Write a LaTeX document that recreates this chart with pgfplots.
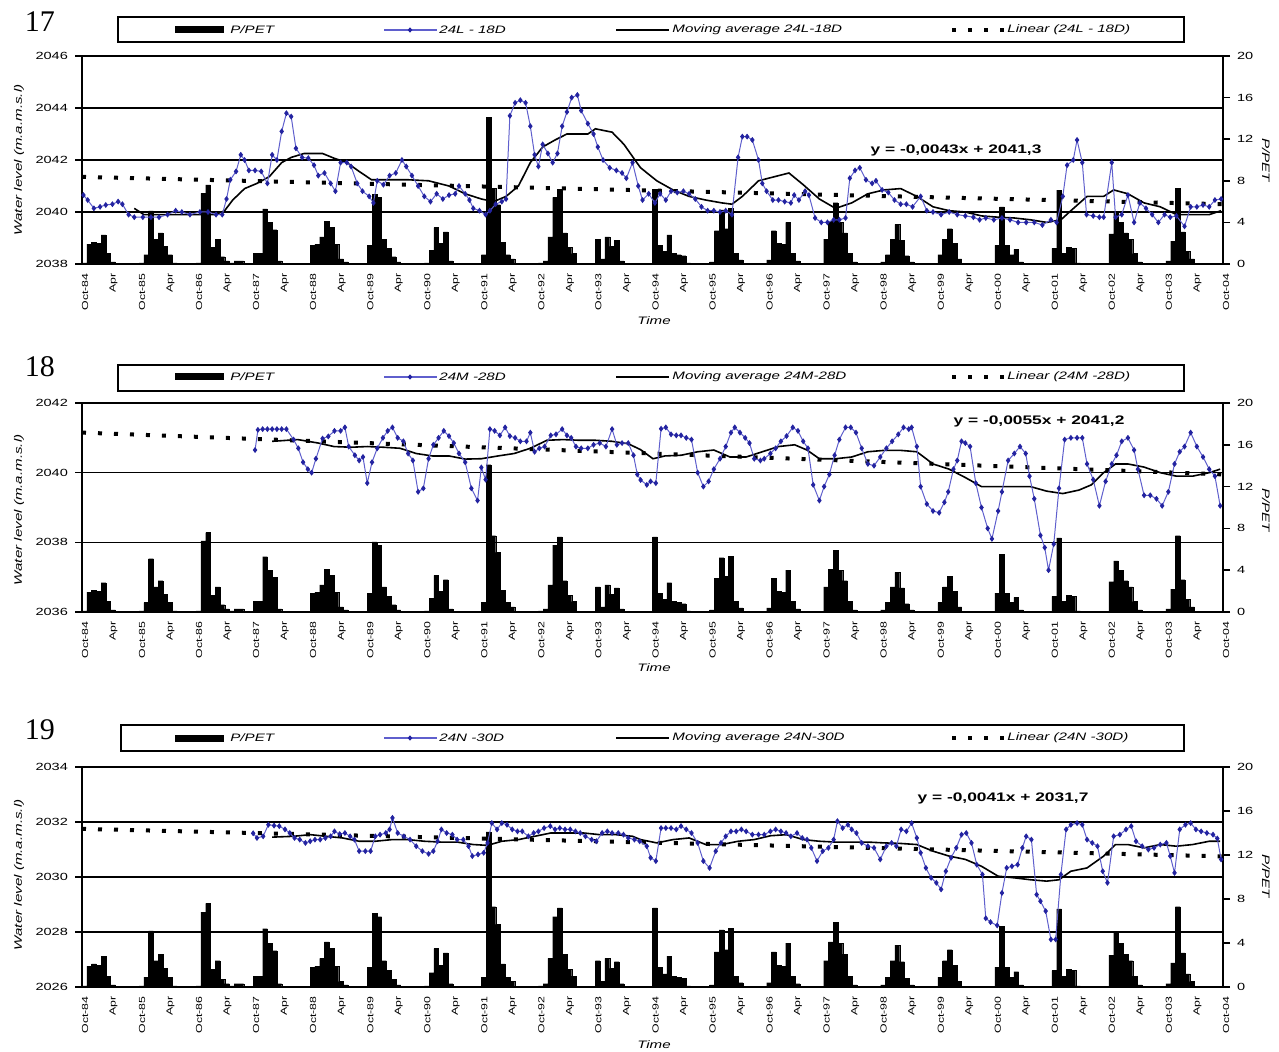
\documentclass[border=0pt]{standalone}
\usepackage{fontspec}
\setmainfont{Liberation Sans}
\newfontfamily\sfx[FakeStretch=1.4]{Liberation Sans}
\newfontfamily\serifx{Liberation Serif}
\usepackage{pgfplots}
\pgfplotsset{compat=1.18}
\usepackage{pgfplotstable}
\definecolor{wl}{RGB}{35,35,160}
\definecolor{wlline}{RGB}{95,95,205}
\newcommand{\tickf}{\sfx\fontsize{5.2}{6.2}\selectfont}
\newcommand{\xtickf}{\sfx\fontsize{4.4}{5.2}\selectfont}
\newcommand{\legf}{\sfx\itshape\fontsize{5.4}{6.4}\selectfont}
\newcommand{\eqf}{\sfx\bfseries\fontsize{6.2}{7}\selectfont}
\tikzset{trend/.style={black,line width=2pt,dash pattern=on 2pt off 6pt},
         mavg/.style={black,line width=0.8pt},
         wlev/.style={wlline,line width=0.5pt,mark=diamond*,mark size=1.1pt,mark options={wl,solid}}}
\pgfplotsset{
 panel/.style={scale only axis,width=570.5pt,xmin=0,xmax=240,anchor=south west},
 wlaxis/.style={panel,axis x line*=bottom,axis y line*=left,axis line style={-,line width=0.8pt},
   ymajorgrids,grid style={line width=0.7pt,black},
   xtick={0,6,...,240},
   xticklabels={Oct-84,Apr,Oct-85,Apr,Oct-86,Apr,Oct-87,Apr,Oct-88,Apr,Oct-89,Apr,Oct-90,Apr,Oct-91,Apr,Oct-92,Apr,Oct-93,Apr,Oct-94,Apr,Oct-95,Apr,Oct-96,Apr,Oct-97,Apr,Oct-98,Apr,Oct-99,Apr,Oct-00,Apr,Oct-01,Apr,Oct-02,Apr,Oct-03,Apr,Oct-04},
   xticklabel style={rotate=90,anchor=east,font=\xtickf,inner sep=1pt,yshift=-1.5pt},
   xtick style={draw=none},
   yticklabel style={font=\tickf,/pgf/number format/1000 sep={}},
   ytick style={line width=0.8pt,black},
   tick align=outside,major tick length=3.5pt,
   /pgf/number format/assume math mode=true},
 ppaxis/.style={panel,axis x line=none,axis y line*=right,axis line style={-,line width=0.8pt},
   ymin=0,ymax=20,ytick={0,4,...,20},
   yticklabel style={font=\tickf},ytick style={line width=0.8pt,black},
   tick align=outside,major tick length=3.5pt,
   /pgf/number format/assume math mode=true},
}
\pgfplotstableread{
m v
0.5 0.1
1.5 1.9
2.5 2.1
3.5 2.0
4.5 2.8
5.5 1.0
6.5 0.2
12.5 0.1
13.5 0.9
14.5 5.1
15.5 2.4
16.5 3.0
17.5 1.7
18.5 0.9
19.5 0.1
24.5 0.1
25.5 6.8
26.5 7.6
27.5 1.6
28.5 2.4
29.5 0.7
30.5 0.3
31.5 0.1
32.5 0.3
33.5 0.3
36.5 1.0
37.5 1.0
38.5 5.3
39.5 4.0
40.5 3.3
41.5 0.3
48.5 1.8
49.5 1.9
50.5 2.6
51.5 4.1
52.5 3.5
53.5 1.9
54.5 0.5
55.5 0.2
60.5 1.8
61.5 6.7
62.5 6.4
63.5 2.4
64.5 1.5
65.5 0.7
66.5 0.2
72.5 0.1
73.5 1.3
74.5 3.5
75.5 2.0
76.5 3.1
77.5 0.3
84.5 0.9
85.5 14.1
86.5 7.3
87.5 5.7
88.5 2.1
89.5 0.9
90.5 0.5
96.5 0.1
97.5 0.3
98.5 2.6
99.5 6.4
100.5 7.2
101.5 3.0
102.5 1.6
103.5 1.0
108.5 2.4
109.5 0.5
110.5 2.6
111.5 1.7
112.5 2.3
113.5 0.3
120.5 7.2
121.5 1.8
122.5 1.2
123.5 2.8
124.5 1.0
125.5 0.9
126.5 0.8
127.5 0.1
132.5 0.2
133.5 3.2
134.5 5.2
135.5 3.4
136.5 5.35
137.5 1.0
138.5 0.4
144.5 0.4
145.5 3.2
146.5 2.0
147.5 1.9
148.5 4.0
149.5 1.0
150.5 0.3
156.5 2.4
157.5 4.1
158.5 5.9
159.5 4.0
160.5 3.0
161.5 1.0
162.5 0.2
168.5 0.2
169.5 0.9
170.5 2.4
171.5 3.8
172.5 2.3
173.5 0.8
174.5 0.2
180.5 0.9
181.5 2.4
182.5 3.4
183.5 2.0
184.5 0.5
192.5 1.8
193.5 5.5
194.5 1.8
195.5 0.9
196.5 1.4
197.5 0.2
204.5 1.5
205.5 7.1
206.5 1.0
207.5 1.6
208.5 1.5
209.5 0.1
216.5 2.9
217.5 4.9
218.5 4.0
219.5 3.0
220.5 2.4
221.5 1.0
222.5 0.2
228.5 0.3
229.5 2.2
230.5 7.3
231.5 3.1
232.5 1.2
233.5 0.5
}\ppet
\pgfplotstableread{
m v
0.3 2040.65
1.2 2040.46
2.5 2040.14
3.8 2040.20
5.0 2040.27
6.4 2040.30
7.6 2040.40
8.5 2040.30
9.8 2039.90
11.0 2039.80
12.8 2039.80
14.5 2039.80
16.2 2039.80
18.0 2039.90
19.7 2040.05
21.0 2040.00
22.7 2039.90
24.8 2040.00
26.5 2040.00
28.2 2039.90
29.5 2039.90
30.4 2040.50
31.2 2041.24
32.4 2041.56
33.4 2042.20
34.2 2042.00
35.1 2041.60
36.4 2041.60
37.7 2041.56
39.0 2041.10
40.0 2042.20
41.0 2042.00
42.0 2043.10
43.0 2043.80
44.0 2043.67
45.0 2042.45
46.3 2042.10
47.6 2042.07
48.8 2041.80
49.7 2041.40
51.0 2041.50
52.3 2041.10
53.3 2040.80
54.4 2041.90
55.7 2041.90
56.6 2041.75
57.9 2041.10
59.0 2040.80
60.4 2040.60
61.3 2040.35
62.1 2041.20
63.4 2041.05
64.7 2041.40
66.0 2041.50
67.3 2042.00
68.2 2041.75
69.4 2041.40
70.7 2041.00
72.0 2040.60
73.3 2040.40
74.6 2040.70
75.9 2040.50
77.2 2040.65
78.5 2040.70
79.3 2041.00
80.6 2040.70
81.5 2040.46
82.3 2040.14
83.6 2040.05
84.9 2039.90
85.8 2040.05
87.0 2040.30
88.3 2040.40
89.2 2040.50
90.0 2043.70
91.1 2044.20
92.2 2044.30
93.3 2044.20
94.3 2043.30
95.2 2042.20
96.0 2041.75
96.9 2042.60
98.0 2042.25
99.0 2041.90
100.0 2042.25
101.0 2043.30
102.0 2043.85
103.0 2044.40
104.2 2044.50
105.0 2043.90
106.4 2043.40
107.6 2043.00
108.5 2042.50
109.6 2042.00
111.0 2041.70
112.4 2041.60
113.6 2041.50
114.5 2041.30
115.8 2041.90
117.0 2041.00
117.9 2040.46
119.2 2040.70
120.5 2040.35
121.6 2040.70
122.8 2040.46
123.9 2040.80
125.2 2040.75
126.5 2040.80
127.7 2040.70
129.0 2040.50
130.3 2040.20
131.6 2040.05
132.9 2040.05
134.2 2040.00
135.4 2040.05
136.7 2039.90
138.0 2042.10
138.9 2042.90
139.9 2042.90
141.0 2042.77
142.3 2042.00
143.1 2041.10
144.0 2040.80
145.3 2040.46
146.5 2040.46
147.8 2040.40
149.1 2040.35
149.8 2040.65
150.8 2040.46
152.1 2040.80
152.9 2040.65
154.2 2039.77
155.5 2039.60
156.8 2039.60
158.1 2039.70
159.3 2039.70
160.6 2039.77
161.5 2041.30
162.6 2041.60
163.6 2041.70
164.9 2041.24
166.2 2041.10
167.0 2041.20
168.3 2040.85
169.6 2040.75
170.9 2040.46
172.2 2040.30
173.4 2040.30
174.7 2040.20
176.4 2040.60
177.7 2040.05
179.0 2040.00
180.7 2039.90
182.4 2040.00
184.1 2039.90
185.8 2039.85
187.5 2039.80
188.8 2039.70
190.1 2039.77
191.8 2039.70
193.5 2039.77
195.2 2039.70
196.9 2039.60
198.6 2039.60
200.3 2039.60
202.0 2039.50
203.8 2039.70
205.0 2039.60
206.3 2040.60
207.2 2041.80
208.5 2042.00
209.3 2042.77
210.4 2041.90
211.3 2039.90
212.7 2039.85
214.0 2039.80
214.9 2039.80
216.6 2041.90
217.4 2039.80
218.7 2039.90
220.0 2040.65
221.3 2039.60
222.5 2040.35
223.8 2040.14
225.1 2039.90
226.4 2039.60
227.7 2039.90
228.9 2039.80
230.2 2039.85
231.9 2039.45
233.2 2040.20
234.5 2040.20
235.8 2040.27
237.1 2040.20
238.3 2040.46
239.6 2040.50
}\blueA
\pgfplotstableread{
m v
11.0 2040.14
13.0 2039.90
18.0 2039.90
24.0 2039.90
28.0 2039.90
30.0 2040.05
31.7 2040.46
34.2 2040.90
36.8 2041.10
39.4 2041.36
42.0 2041.90
44.0 2042.10
46.7 2042.25
50.6 2042.25
53.0 2042.07
55.7 2041.90
58.3 2041.56
60.9 2041.24
64.3 2041.24
68.6 2041.24
72.9 2041.20
77.2 2041.00
80.6 2040.70
84.0 2040.50
86.6 2040.40
89.2 2040.60
91.8 2041.00
94.3 2041.90
96.9 2042.50
99.5 2042.77
102.0 2043.00
106.4 2043.00
108.0 2043.20
111.5 2043.07
114.0 2042.60
116.7 2041.90
117.5 2041.70
120.9 2041.20
124.3 2040.85
127.7 2040.60
131.2 2040.46
134.6 2040.35
136.7 2040.30
138.9 2040.60
142.3 2041.20
145.7 2041.36
148.7 2041.50
151.7 2041.05
155.1 2040.50
158.5 2040.14
161.9 2040.35
165.3 2040.70
168.7 2040.85
172.2 2040.90
175.6 2040.60
179.0 2040.20
182.4 2040.05
185.8 2040.00
189.2 2039.85
192.7 2039.80
196.1 2039.77
199.5 2039.70
202.9 2039.60
205.9 2039.70
208.0 2040.05
211.4 2040.60
214.9 2040.60
217.0 2040.85
220.0 2040.70
223.4 2040.35
226.8 2040.20
230.2 2039.90
233.6 2039.90
237.1 2039.90
239.6 2040.05
}\mavA
\pgfplotstableread{
m v
36.4 2040.65
37.0 2041.23
38.0 2041.25
39.0 2041.25
40.0 2041.25
41.0 2041.25
42.0 2041.25
43.0 2041.25
44.5 2040.95
45.5 2040.70
46.5 2040.30
47.5 2040.10
48.3 2040.00
49.2 2040.40
50.6 2040.98
51.8 2041.04
53.1 2041.20
54.4 2041.20
55.3 2041.30
56.1 2040.75
57.4 2040.50
58.3 2040.35
59.1 2040.45
60.0 2039.70
61.0 2040.30
62.1 2040.70
63.3 2041.00
64.3 2041.20
65.3 2041.30
66.4 2041.00
67.6 2040.90
68.6 2040.55
69.6 2040.35
70.7 2039.45
71.8 2039.55
72.9 2040.40
73.9 2040.80
75.0 2041.00
76.1 2041.20
77.2 2041.05
78.2 2040.85
79.3 2040.55
80.6 2040.30
81.9 2039.55
83.2 2039.20
84.0 2040.15
84.9 2039.80
85.8 2041.25
86.8 2041.20
87.9 2041.07
89.0 2041.30
90.0 2041.05
91.1 2041.00
92.2 2040.90
93.5 2040.90
94.3 2041.15
95.2 2040.60
96.2 2040.70
97.3 2040.75
98.6 2041.07
99.7 2041.10
101.0 2041.25
102.0 2041.07
102.9 2041.00
103.9 2040.75
105.0 2040.70
106.4 2040.70
107.6 2040.80
108.9 2040.85
110.2 2040.75
111.5 2041.25
112.5 2040.80
113.6 2040.85
114.9 2040.85
116.0 2040.50
116.8 2039.95
117.5 2039.79
118.8 2039.65
119.6 2039.75
120.7 2039.70
121.8 2041.26
122.8 2041.30
123.9 2041.10
125.0 2041.07
126.0 2041.07
127.1 2041.00
128.2 2040.95
129.5 2040.00
130.7 2039.60
131.8 2039.75
132.9 2040.10
134.2 2040.40
135.4 2040.75
136.5 2041.15
137.3 2041.30
138.4 2041.15
139.5 2041.00
140.4 2040.85
141.4 2040.40
142.7 2040.35
143.5 2040.40
144.8 2040.55
145.9 2040.70
147.0 2040.90
148.2 2041.05
149.5 2041.30
150.6 2041.20
151.7 2040.90
152.7 2040.70
153.8 2039.65
155.1 2039.20
156.1 2039.60
157.2 2039.95
158.3 2040.50
159.3 2040.95
160.6 2041.30
161.7 2041.30
162.8 2041.15
164.0 2040.70
165.3 2040.25
166.6 2040.20
167.9 2040.45
169.2 2040.70
170.4 2040.90
171.7 2041.10
172.8 2041.30
173.9 2041.25
174.5 2041.30
175.6 2040.75
176.4 2039.60
177.7 2039.10
179.0 2038.90
180.3 2038.85
181.4 2039.15
182.2 2039.45
183.3 2040.10
184.1 2040.35
185.0 2040.90
185.8 2040.85
186.8 2040.75
188.0 2039.70
189.2 2039.00
190.5 2038.40
191.4 2038.10
192.7 2038.90
193.5 2039.45
194.8 2040.35
196.1 2040.55
197.3 2040.75
198.5 2040.55
199.3 2039.90
200.3 2039.25
201.6 2038.20
202.5 2037.85
203.3 2037.20
204.4 2037.95
205.5 2039.55
206.7 2040.95
208.0 2041.00
209.3 2041.00
210.4 2041.00
211.4 2040.25
212.7 2039.80
214.0 2039.05
215.3 2039.75
216.6 2040.25
217.6 2040.50
218.7 2040.90
220.0 2041.00
221.3 2040.65
222.1 2040.10
223.4 2039.35
224.7 2039.35
226.0 2039.25
227.2 2039.05
228.5 2039.45
229.8 2040.25
230.9 2040.60
231.9 2040.75
233.2 2041.15
234.5 2040.75
235.8 2040.45
237.1 2040.10
238.3 2039.90
239.4 2039.05
}\blueB
\pgfplotstableread{
m v
40.0 2040.90
45.4 2040.95
49.7 2040.85
53.0 2040.75
56.6 2040.73
60.0 2040.75
63.4 2040.73
66.9 2040.70
70.3 2040.55
73.7 2040.48
77.2 2040.48
80.6 2040.39
84.0 2040.40
87.5 2040.48
90.9 2040.55
94.3 2040.70
97.8 2040.93
101.2 2040.95
104.6 2040.93
108.0 2040.93
111.5 2040.90
114.9 2040.83
117.5 2040.66
120.1 2040.40
122.6 2040.48
126.0 2040.50
129.5 2040.60
132.9 2040.65
136.3 2040.45
139.7 2040.45
143.1 2040.60
146.5 2040.75
149.9 2040.80
152.5 2040.65
155.1 2040.40
158.5 2040.40
161.9 2040.45
165.3 2040.60
168.7 2040.64
172.2 2040.64
175.6 2040.60
179.0 2040.25
182.4 2040.10
185.8 2039.86
189.2 2039.60
191.8 2039.60
196.1 2039.60
199.5 2039.60
202.9 2039.47
206.3 2039.40
209.7 2039.50
212.3 2039.65
214.9 2040.00
217.4 2040.25
220.0 2040.25
223.4 2040.16
226.8 2040.00
230.2 2039.90
233.6 2039.90
237.1 2040.00
239.4 2040.10
}\mavB
\pgfplotstableread{
m v
36.0 2031.59
36.8 2031.42
38.1 2031.48
39.2 2031.90
40.4 2031.87
41.5 2031.85
42.7 2031.73
43.7 2031.60
44.7 2031.42
45.8 2031.36
47.0 2031.24
48.0 2031.30
49.0 2031.36
50.1 2031.36
51.2 2031.42
52.3 2031.48
53.1 2031.66
54.2 2031.56
55.3 2031.60
56.4 2031.48
57.3 2031.36
58.3 2030.94
59.6 2030.94
60.7 2030.94
61.7 2031.48
62.7 2031.54
63.9 2031.60
64.7 2031.73
65.3 2032.15
66.4 2031.60
67.7 2031.48
69.0 2031.36
70.3 2031.12
71.6 2030.94
72.9 2030.84
73.9 2030.94
74.8 2031.30
75.6 2031.73
76.7 2031.60
77.9 2031.54
78.9 2031.36
80.2 2031.36
81.3 2031.12
82.1 2030.76
83.3 2030.82
84.5 2030.88
85.3 2031.24
86.2 2031.96
87.3 2031.73
88.3 2031.96
89.4 2031.90
90.5 2031.73
91.6 2031.66
92.6 2031.66
93.9 2031.48
95.0 2031.60
96.0 2031.66
97.2 2031.78
98.5 2031.85
99.5 2031.73
100.5 2031.78
101.6 2031.73
102.7 2031.73
103.8 2031.66
104.8 2031.60
105.9 2031.48
107.2 2031.36
108.2 2031.30
109.4 2031.60
110.5 2031.66
111.5 2031.60
112.8 2031.60
113.9 2031.54
114.9 2031.42
116.2 2031.36
117.3 2031.30
118.8 2031.12
119.6 2030.70
120.7 2030.58
121.8 2031.78
122.8 2031.78
123.9 2031.78
125.0 2031.73
126.0 2031.85
127.1 2031.73
128.2 2031.60
129.5 2031.24
130.7 2030.58
132.0 2030.33
133.3 2030.94
134.4 2031.24
135.4 2031.48
136.5 2031.66
137.6 2031.66
138.7 2031.73
139.7 2031.66
141.0 2031.54
142.3 2031.54
143.5 2031.54
144.8 2031.66
145.9 2031.73
147.0 2031.66
148.1 2031.60
149.1 2031.48
150.4 2031.60
151.5 2031.42
152.5 2031.36
153.4 2031.06
154.6 2030.58
155.8 2030.94
157.0 2031.06
158.1 2031.36
158.9 2032.03
160.0 2031.78
161.1 2031.90
161.9 2031.73
162.9 2031.60
164.0 2031.24
165.3 2031.12
166.6 2031.06
167.9 2030.64
169.2 2031.12
170.3 2031.24
171.3 2031.12
172.3 2031.73
173.4 2031.66
174.5 2031.96
175.6 2031.42
176.4 2030.88
177.5 2030.33
178.6 2029.97
179.7 2029.79
180.7 2029.55
181.7 2030.21
182.8 2030.70
183.9 2031.06
185.0 2031.54
186.0 2031.60
187.1 2031.24
188.2 2030.45
189.4 2030.09
190.1 2028.50
191.1 2028.36
192.5 2028.24
193.5 2029.42
194.5 2030.33
195.6 2030.39
196.8 2030.45
197.8 2031.06
198.6 2031.48
199.7 2031.36
200.8 2029.36
201.6 2029.12
202.7 2028.76
203.8 2027.73
204.8 2027.73
205.9 2030.09
207.0 2031.73
208.0 2031.90
209.3 2031.96
210.4 2031.90
211.4 2031.36
212.5 2031.24
213.6 2031.12
214.7 2030.21
215.7 2029.79
217.0 2031.48
218.3 2031.54
219.6 2031.73
220.7 2031.85
221.7 2031.30
223.0 2031.12
224.3 2031.00
225.5 2031.06
226.8 2031.18
228.1 2031.24
228.9 2030.76
229.8 2030.15
230.9 2031.73
232.1 2031.90
233.2 2031.96
234.3 2031.73
235.4 2031.66
236.6 2031.60
237.9 2031.54
238.8 2031.40
239.6 2030.64
}\blueC
\pgfplotstableread{
m v
40.0 2031.45
44.5 2031.48
48.0 2031.54
51.4 2031.48
54.8 2031.42
58.3 2031.30
61.7 2031.30
65.2 2031.36
68.6 2031.36
72.0 2031.30
75.5 2031.27
78.9 2031.27
82.3 2031.18
85.3 2031.15
88.3 2031.30
91.8 2031.36
95.2 2031.48
98.6 2031.60
102.0 2031.60
105.5 2031.60
108.9 2031.54
112.3 2031.54
115.8 2031.48
117.5 2031.36
120.9 2031.24
124.3 2031.36
127.7 2031.42
131.2 2031.18
134.6 2031.18
138.0 2031.30
141.4 2031.36
144.8 2031.50
148.2 2031.54
151.7 2031.36
155.1 2031.30
158.5 2031.27
161.9 2031.27
165.3 2031.27
168.7 2031.24
172.2 2031.22
175.6 2031.18
179.0 2030.94
182.4 2030.76
185.8 2030.64
189.2 2030.39
192.7 2030.03
196.1 2029.97
199.5 2029.90
202.9 2029.85
205.5 2029.90
208.0 2030.21
211.4 2030.33
214.9 2030.76
217.4 2031.18
220.0 2031.18
223.4 2031.06
226.8 2031.18
230.2 2031.12
233.6 2031.18
237.1 2031.30
239.4 2031.30
}\mavC
\begin{document}
\begin{tikzpicture}
\path[use as bounding box] (0pt,0pt) rectangle (639.5pt,525.5pt);
% ---------- panel 17
\begin{axis}[ppaxis,at={(41pt,393.5pt)},height=104pt]
\addplot[ybar,bar width=1,bar shift=0pt,fill=black,draw=black,line width=0.1pt] table[x=m,y=v]{\ppet};
\end{axis}
\begin{axis}[wlaxis,at={(41pt,393.5pt)},height=104pt,ymin=2038,ymax=2046,ytick={2038,2040,2042,2044,2046}]
\addplot[trend] coordinates {(0,2041.35) (240,2040.3)};
\addplot[mavg] table[x=m,y=v]{\mavA};
\addplot[wlev] table[x=m,y=v]{\blueA};
\end{axis}
% ---------- panel 18
\begin{axis}[ppaxis,at={(41pt,219.5pt)},height=104.5pt]
\addplot[ybar,bar width=1,bar shift=0pt,fill=black,draw=black,line width=0.1pt] table[x=m,y=v]{\ppet};
\end{axis}
\begin{axis}[wlaxis,at={(41pt,219.5pt)},height=104.5pt,ymin=2036,ymax=2042,ytick={2036,2038,2040,2042}]
\addplot[trend] coordinates {(0,2041.15) (240,2039.95)};
\addplot[mavg] table[x=m,y=v]{\mavB};
\addplot[wlev] table[x=m,y=v]{\blueB};
\end{axis}
% ---------- panel 19
\begin{axis}[ppaxis,at={(41pt,32pt)},height=110pt]
\addplot[ybar,bar width=1,bar shift=0pt,fill=black,draw=black,line width=0.1pt] table[x=m,y=v]{\ppet};
\end{axis}
\begin{axis}[wlaxis,at={(41pt,32pt)},height=110pt,ymin=2026,ymax=2034,ytick={2026,2028,2030,2032,2034}]
\addplot[trend] coordinates {(0,2031.75) (240,2030.75)};
\addplot[mavg] table[x=m,y=v]{\mavC};
\addplot[wlev] table[x=m,y=v]{\blueC};
\end{axis}
% ---------- texts and legends (pixel coordinates)
\begin{scope}[shift={(0pt,525.5pt)},x=0.5pt,y=-0.5pt]
\foreach \yy/\top/\bot/\lft/\num/\ylab/\nm/\tl/\eqx/\eqy/\eqt/\tm in {
 30/17/42/118/17/22/{24L - 18D}/{24L-18D}/956/150/{y = -0,0043x + 2041,3}/321,
 377/365/391/118/18/367/{24M -28D}/{24M-28D}/1039/421/{y = -0,0055x + 2041,2}/668,
 738/725/751/121/19/730/{24N -30D}/{24N-30D}/1003/798/{y = -0,0041x + 2031,7}/1045}{
  \draw[line width=1.2pt] (\lft,\top) rectangle (1184,\bot);
  \fill[black] (175,\yy-3.5) rectangle (224,\yy+3.5);
  \node[anchor=west,font=\legf,inner sep=0pt] at (230,\yy) {P/PET};
  \draw[wlline,line width=0.6pt] (384,\yy) -- (437,\yy);
  \fill[wl] (410,\yy-2.6) -- (412.4,\yy) -- (410,\yy+2.6) -- (407.6,\yy) -- cycle;
  \node[anchor=west,font=\legf,inner sep=0pt] at (439,\yy) {\nm};
  \draw[mavg] (616,\yy) -- (669,\yy);
  \node[anchor=west,font=\legf,inner sep=0pt] at (672,\yy) {Moving average \tl};
  \draw[trend] (952,\yy) -- (1005,\yy);
  \node[anchor=west,font=\legf,inner sep=0pt] at (1007,\yy) {Linear (\nm)};
  \node[font=\serifx\fontsize{15}{15}\selectfont] at (40,\ylab) {\num};
  \node[font=\eqf] at (\eqx,\eqy) {\eqt};
  \node[font=\legf] at (654,\tm) {Time};
}
\node[rotate=90,font=\legf] at (19,160) {Water level (m.a.m.s.l)};
\node[rotate=90,font=\legf] at (19,510) {Water level (m.a.m.s.l)};
\node[rotate=90,font=\legf] at (19,875) {Water level (m.a.m.s.l)};
\node[rotate=-90,font=\legf] at (1266,160) {P/PET};
\node[rotate=-90,font=\legf] at (1266,510) {P/PET};
\node[rotate=-90,font=\legf] at (1266,876) {P/PET};
\end{scope}
\end{tikzpicture}
\end{document}
